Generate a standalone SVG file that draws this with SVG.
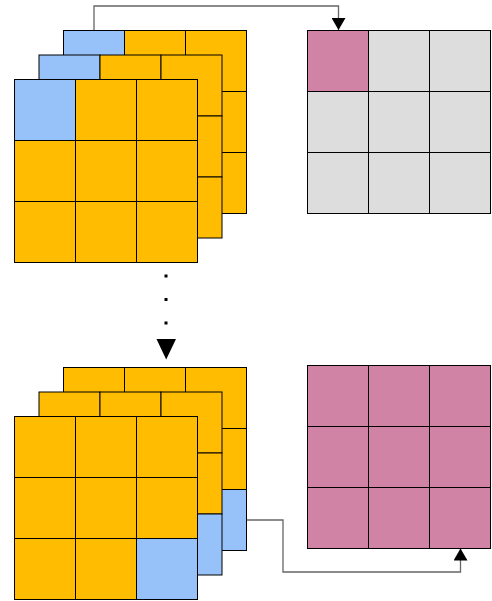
<svg xmlns="http://www.w3.org/2000/svg" width="492" height="601" viewBox="0 0 492 601">
<defs>
<style>
.c{stroke:#000;stroke-width:1;}
.o{fill:#FFBC00;}
.b{fill:#97C2F9;}
.g{fill:#DDDDDD;}
.p{fill:#D183A6;}
.wire{fill:none;stroke:#666;stroke-width:1.3;}
</style>
<marker id="ah" viewBox="0 0 12 14" refX="12" refY="7" markerWidth="12" markerHeight="14" markerUnits="userSpaceOnUse" orient="auto">
<path d="M0,0 L12,7 L0,14 Z" fill="#000"/>
</marker>
</defs>
<rect width="492" height="601" fill="#fff"/>

<g id="connectors">
<path class="wire" d="M94,30.5 V6 H338.5 V30" marker-end="url(#ah)"/>
<path class="wire" d="M246.5,520 H283 V572 H460.5 V548.5" marker-end="url(#ah)"/>
<line x1="166" y1="274.5" x2="166" y2="326" stroke="#000" stroke-width="3" stroke-dasharray="3 20.5"/>
<polygon points="156.5,339 176,339 166.2,359.5" fill="#000"/>
</g>

<g id="top-back" transform="translate(63.5,30.5)">
<rect class="c b" x="0" y="0" width="61" height="61"/><rect class="c o" x="61" y="0" width="61" height="61"/><rect class="c o" x="122" y="0" width="61" height="61"/>
<rect class="c o" x="0" y="61" width="61" height="61"/><rect class="c o" x="61" y="61" width="61" height="61"/><rect class="c o" x="122" y="61" width="61" height="61"/>
<rect class="c o" x="0" y="122" width="61" height="61"/><rect class="c o" x="61" y="122" width="61" height="61"/><rect class="c o" x="122" y="122" width="61" height="61"/>
</g>
<g id="top-middle" transform="translate(39,55)">
<rect class="c b" x="0" y="0" width="61" height="61"/><rect class="c o" x="61" y="0" width="61" height="61"/><rect class="c o" x="122" y="0" width="61" height="61"/>
<rect class="c o" x="0" y="61" width="61" height="61"/><rect class="c o" x="61" y="61" width="61" height="61"/><rect class="c o" x="122" y="61" width="61" height="61"/>
<rect class="c o" x="0" y="122" width="61" height="61"/><rect class="c o" x="61" y="122" width="61" height="61"/><rect class="c o" x="122" y="122" width="61" height="61"/>
</g>
<g id="top-front" transform="translate(14.5,79.5)">
<rect class="c b" x="0" y="0" width="61" height="61"/><rect class="c o" x="61" y="0" width="61" height="61"/><rect class="c o" x="122" y="0" width="61" height="61"/>
<rect class="c o" x="0" y="61" width="61" height="61"/><rect class="c o" x="61" y="61" width="61" height="61"/><rect class="c o" x="122" y="61" width="61" height="61"/>
<rect class="c o" x="0" y="122" width="61" height="61"/><rect class="c o" x="61" y="122" width="61" height="61"/><rect class="c o" x="122" y="122" width="61" height="61"/>
</g>

<g id="top-output" transform="translate(307.5,30.5)">
<rect class="c p" x="0" y="0" width="61" height="61"/><rect class="c g" x="61" y="0" width="61" height="61"/><rect class="c g" x="122" y="0" width="61" height="61"/>
<rect class="c g" x="0" y="61" width="61" height="61"/><rect class="c g" x="61" y="61" width="61" height="61"/><rect class="c g" x="122" y="61" width="61" height="61"/>
<rect class="c g" x="0" y="122" width="61" height="61"/><rect class="c g" x="61" y="122" width="61" height="61"/><rect class="c g" x="122" y="122" width="61" height="61"/>
</g>

<g id="bottom-back" transform="translate(63.5,367.5)">
<rect class="c o" x="0" y="0" width="61" height="61"/><rect class="c o" x="61" y="0" width="61" height="61"/><rect class="c o" x="122" y="0" width="61" height="61"/>
<rect class="c o" x="0" y="61" width="61" height="61"/><rect class="c o" x="61" y="61" width="61" height="61"/><rect class="c o" x="122" y="61" width="61" height="61"/>
<rect class="c o" x="0" y="122" width="61" height="61"/><rect class="c o" x="61" y="122" width="61" height="61"/><rect class="c b" x="122" y="122" width="61" height="61"/>
</g>
<g id="bottom-middle" transform="translate(39,392)">
<rect class="c o" x="0" y="0" width="61" height="61"/><rect class="c o" x="61" y="0" width="61" height="61"/><rect class="c o" x="122" y="0" width="61" height="61"/>
<rect class="c o" x="0" y="61" width="61" height="61"/><rect class="c o" x="61" y="61" width="61" height="61"/><rect class="c o" x="122" y="61" width="61" height="61"/>
<rect class="c o" x="0" y="122" width="61" height="61"/><rect class="c o" x="61" y="122" width="61" height="61"/><rect class="c b" x="122" y="122" width="61" height="61"/>
</g>
<g id="bottom-front" transform="translate(14.5,416.5)">
<rect class="c o" x="0" y="0" width="61" height="61"/><rect class="c o" x="61" y="0" width="61" height="61"/><rect class="c o" x="122" y="0" width="61" height="61"/>
<rect class="c o" x="0" y="61" width="61" height="61"/><rect class="c o" x="61" y="61" width="61" height="61"/><rect class="c o" x="122" y="61" width="61" height="61"/>
<rect class="c o" x="0" y="122" width="61" height="61"/><rect class="c o" x="61" y="122" width="61" height="61"/><rect class="c b" x="122" y="122" width="61" height="61"/>
</g>

<g id="bottom-output" transform="translate(307.5,365.5)">
<rect class="c p" x="0" y="0" width="61" height="61"/><rect class="c p" x="61" y="0" width="61" height="61"/><rect class="c p" x="122" y="0" width="61" height="61"/>
<rect class="c p" x="0" y="61" width="61" height="61"/><rect class="c p" x="61" y="61" width="61" height="61"/><rect class="c p" x="122" y="61" width="61" height="61"/>
<rect class="c p" x="0" y="122" width="61" height="61"/><rect class="c p" x="61" y="122" width="61" height="61"/><rect class="c p" x="122" y="122" width="61" height="61"/>
</g>
</svg>
